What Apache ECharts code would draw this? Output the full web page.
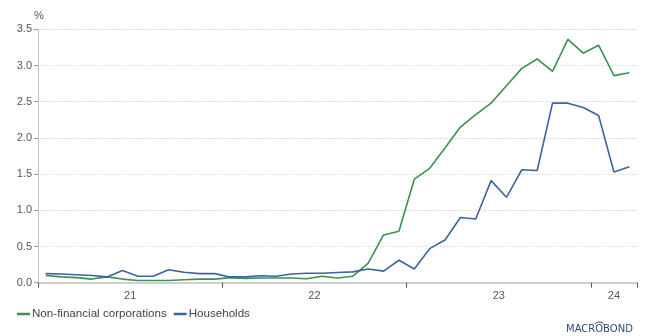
<!DOCTYPE html>
<html>
<head>
<meta charset="utf-8">
<script src="https://cdn.jsdelivr.net/npm/echarts@6/dist/echarts.min.js"></script>
<style>html,body{margin:0;padding:0;background:#fff}#c{width:651px;height:336px}</style>
</head>
<body>
<div id="c"></div>
<script>
const months = ['2021-01','2021-02','2021-03','2021-04','2021-05','2021-06','2021-07','2021-08','2021-09','2021-10','2021-11','2021-12',
  '2022-01','2022-02','2022-03','2022-04','2022-05','2022-06','2022-07','2022-08','2022-09','2022-10','2022-11','2022-12',
  '2023-01','2023-02','2023-03','2023-04','2023-05','2023-06','2023-07','2023-08','2023-09','2023-10','2023-11','2023-12',
  '2024-01','2024-02','2024-03'];
const nonFinancial = [0.10,0.08,0.07,0.05,0.08,0.05,0.03,0.03,0.03,0.04,0.05,0.05,
  0.07,0.06,0.065,0.065,0.065,0.055,0.09,0.065,0.09,0.27,0.66,0.71,
  1.43,1.58,1.86,2.15,2.32,2.48,2.72,2.96,3.09,2.92,3.36,3.17,
  3.28,2.86,2.90];
const households = [0.125,0.12,0.11,0.10,0.08,0.17,0.09,0.09,0.18,0.145,0.125,0.125,
  0.08,0.08,0.095,0.09,0.12,0.13,0.13,0.14,0.15,0.19,0.16,0.31,
  0.19,0.47,0.59,0.90,0.88,1.41,1.18,1.56,1.55,2.48,2.48,2.42,
  2.31,1.53,1.60];
const yearTicks = ['21','22','23','24'];
const seriesNames = ['Non-financial corporations','Households'];

// position of each month at its middle on a month-count axis
const pos = months.map((m, i) => i + 0.5);
// year label positions: middle of each (possibly partial) year
const yearLabelPos = {};
yearTicks.forEach((y) => {
  const idx = months.map((m, i) => m.slice(2, 4) === y ? i : -1).filter(i => i >= 0);
  yearLabelPos[(idx[0] + idx[idx.length - 1] + 1) / 2] = y;
});

const FONT = 'Liberation Sans, Arial, sans-serif';
const LOGO_FONT = '10px "DejaVu Sans", sans-serif';
const logoLeft = 566;
const mctx = document.createElement('canvas').getContext('2d');
mctx.font = LOGO_FONT;
const oStart = mctx.measureText('MACR').width;
const oW = mctx.measureText('O').width;
const arcCx = logoLeft + oStart + oW / 2;

const chart = echarts.init(document.getElementById('c'), null, {renderer: 'canvas'});
chart.setOption({
  animation: false,
  textStyle: {fontFamily: FONT},
  color: ['#3d9150', '#3b64a0'],
  grid: {left: 38, right: 14, top: 29.3, bottom: 53.3, containLabel: false},
  legend: {
    left: 12, top: 303, icon: 'rect', itemWidth: 13, itemHeight: 2.5, itemGap: 7,
    textStyle: {fontSize: 11.6, color: '#444', fontFamily: FONT, padding: [0, 0, 0, -3]},
    data: seriesNames
  },
  xAxis: [{
    type: 'value', min: 0, max: months.length, interval: 12,
    axisLine: {show: true, lineStyle: {color: '#cfcfcf', width: 2}},
    axisTick: {show: true, length: 5, lineStyle: {color: '#555', width: 1}},
    axisLabel: {show: false},
    splitLine: {show: false}
  }, {
    type: 'value', min: 0, max: months.length, interval: 1.5, position: 'bottom',
    axisLine: {show: false}, axisTick: {show: false}, splitLine: {show: false},
    axisLabel: {
      show: true, margin: 8, fontSize: 11, color: '#555', fontFamily: FONT,
      showMinLabel: true, showMaxLabel: true,
      formatter: v => yearLabelPos[v] || ''
    }
  }],
  yAxis: {
    type: 'value', min: 0, max: 3.5, interval: 0.5,
    axisLine: {show: true, lineStyle: {color: '#c4c4c4', width: 1}},
    axisTick: {show: true, length: 4, lineStyle: {color: '#999'}},
    axisLabel: {fontSize: 11, color: '#555', margin: 6, fontFamily: FONT, formatter: v => v.toFixed(1)},
    splitLine: {show: true, lineStyle: {color: '#d6d6d6', type: [1.5, 1.5], width: 1}}
  },
  graphic: [
    {type: 'text', left: 34, top: 10, style: {text: '%', fontSize: 11, fill: '#555', fontFamily: FONT}},
    {type: 'text', left: logoLeft, top: 324.5, style: {text: 'MACROBOND', font: LOGO_FONT, fill: '#2f4a78'}},
    {type: 'arc', shape: {cx: arcCx, cy: 328, r: 6, startAngle: Math.PI * 1.22, endAngle: Math.PI * 1.78}, style: {stroke: '#2f4a78', fill: 'none', lineWidth: 1}}
  ],
  series: [
    {name: seriesNames[0], type: 'line', xAxisIndex: 0, showSymbol: false, symbol: 'none',
     lineStyle: {width: 1.6}, data: nonFinancial.map((v, i) => [pos[i], v])},
    {name: seriesNames[1], type: 'line', xAxisIndex: 0, showSymbol: false, symbol: 'none',
     lineStyle: {width: 1.6}, data: households.map((v, i) => [pos[i], v])}
  ]
});
</script>
</body>
</html>
